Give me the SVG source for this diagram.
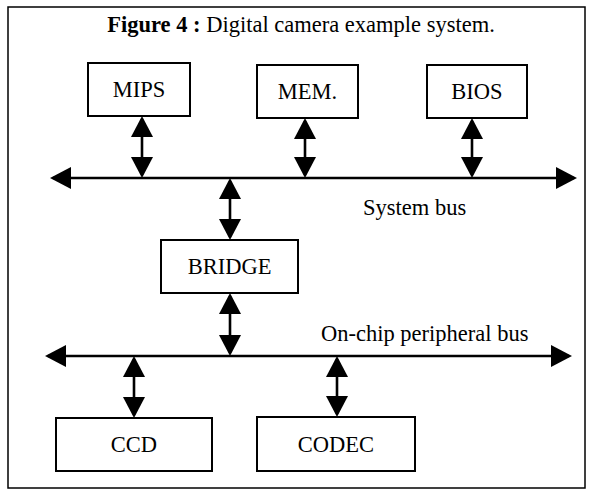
<svg xmlns="http://www.w3.org/2000/svg" width="591" height="490" viewBox="0 0 591 490">
<defs>
<marker id="ah" markerUnits="userSpaceOnUse" markerWidth="21" markerHeight="22" refX="18" refY="11" orient="auto-start-reverse" viewBox="0 0 21 22">
<path d="M0,0 L21,11 L0,22 Z" fill="#000"/>
</marker>
</defs>
<style>
text{font-family:"Liberation Serif","Times New Roman",serif;font-size:22.5px;fill:#000}
.box{fill:#fff;stroke:#000;stroke-width:2}
.lbl{text-anchor:middle}
.bus{stroke:#000;stroke-width:2.6;fill:none;marker-start:url(#ah);marker-end:url(#ah)}
.arr{stroke:#000;stroke-width:2.6;fill:none;marker-start:url(#ah);marker-end:url(#ah)}
</style>
<rect x="0" y="0" width="591" height="490" fill="#fff"/>
<rect x="8" y="7" width="577" height="481" fill="none" stroke="#000" stroke-width="1.5"/>
<text x="301" y="32" text-anchor="middle"><tspan font-weight="bold">Figure 4 :</tspan> Digital camera example system.</text>
<g id="connectors">
<line class="bus" x1="53" y1="178" x2="574" y2="178"/>
<line class="bus" x1="48" y1="356" x2="569" y2="356"/>
<line class="arr" x1="142" y1="119" x2="142" y2="175"/>
<line class="arr" x1="305" y1="121" x2="305" y2="175"/>
<line class="arr" x1="472" y1="121" x2="472" y2="175"/>
<line class="arr" x1="230" y1="181" x2="230" y2="237"/>
<line class="arr" x1="230" y1="296" x2="230" y2="353"/>
<line class="arr" x1="134" y1="359" x2="134" y2="415"/>
<line class="arr" x1="337" y1="359" x2="337" y2="414"/>
</g>
<text x="363" y="215">System bus</text>
<text x="321" y="341">On-chip peripheral bus</text>
<g id="mips"><rect class="box" x="88" y="63" width="102" height="53"/><text class="lbl" x="139" y="97">MIPS</text></g>
<g id="mem"><rect class="box" x="257" y="65" width="101" height="53"/><text class="lbl" x="307.5" y="99">MEM.</text></g>
<g id="bios"><rect class="box" x="427" y="65" width="100" height="53"/><text class="lbl" x="477" y="99">BIOS</text></g>
<g id="bridge"><rect class="box" x="161" y="240" width="137" height="53"/><text class="lbl" x="229.5" y="274">BRIDGE</text></g>
<g id="ccd"><rect class="box" x="56" y="418" width="156" height="53"/><text class="lbl" x="134" y="452">CCD</text></g>
<g id="codec"><rect class="box" x="257" y="417" width="158" height="54"/><text class="lbl" x="336" y="452">CODEC</text></g>
</svg>
